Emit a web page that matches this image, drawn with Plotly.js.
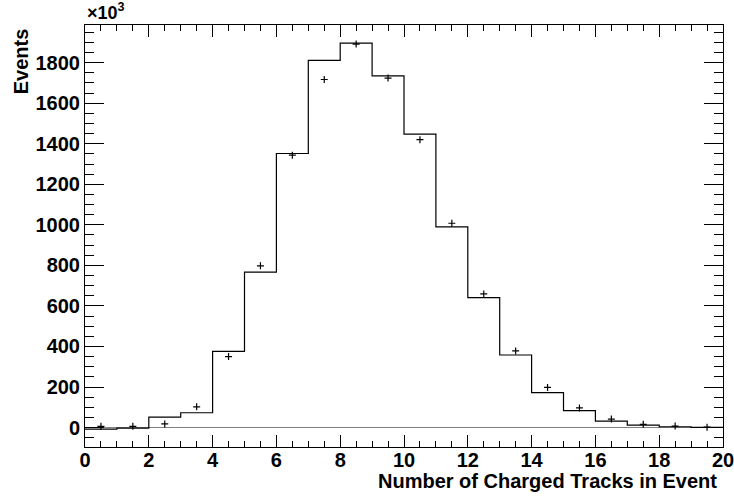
<!DOCTYPE html>
<html>
<head>
<meta charset="utf-8">
<script src="https://cdn.plot.ly/plotly-3.0.1.min.js"></script>
<style>html,body{margin:0;padding:0;background:#fff;}#chart{width:734px;height:498px;}</style>
</head>
<body>
<div id="chart"></div>
<script>
// Bin lower edges (number of charged tracks), bin width 1
var binLow = [0, 1, 2, 3, 4, 5, 6, 7, 8, 9, 10, 11, 12, 13, 14, 15, 16, 17, 18, 19];
// Histogram contents (x10^3 events)
var histValues = [-8, -3, 51, 73, 376, 767, 1352, 1811, 1897, 1735, 1448, 990, 641, 358, 172, 83, 32, 12, 4, 1];
// Data points (x10^3 events), drawn at bin centres
var pointValues = [6, 6, 18, 102, 350, 798, 1344, 1717, 1892, 1724, 1420, 1008, 659, 378, 198, 97, 42, 16, 7, 2];
var xTickVals = [0, 2, 4, 6, 8, 10, 12, 14, 16, 18, 20];
var yTickVals = [0, 200, 400, 600, 800, 1000, 1200, 1400, 1600, 1800];

var binWidth = 1;
var stepX = binLow.concat([binLow[binLow.length - 1] + binWidth]);
var stepY = histValues.concat([histValues[histValues.length - 1]]);
var centers = binLow.map(function (b) { return b + binWidth / 2; });
function bold(v) { return '<b>' + v + '</b>'; }

var font = {family: 'Liberation Sans, Arial, sans-serif', size: 20, color: '#000'};

var traces = [
  {
    type: 'scatter', mode: 'lines', x: stepX, y: stepY,
    line: {shape: 'hv', color: '#000', width: 1.2},
    hoverinfo: 'skip', showlegend: false
  },
  {
    type: 'scatter', mode: 'markers', x: centers, y: pointValues,
    marker: {symbol: 'cross-thin', size: 5, color: '#000', line: {color: '#000', width: 1.2}},
    showlegend: false
  }
];

var layout = {
  width: 734, height: 498,
  margin: {l: 85, r: 11, t: 25, b: 51, pad: 0},
  paper_bgcolor: '#fff', plot_bgcolor: '#fff',
  showlegend: false,
  xaxis: {
    range: [0, 20], tickmode: 'array', tickvals: xTickVals, ticktext: xTickVals.map(bold),
    ticks: 'inside', ticklen: 12, tickwidth: 1, tickcolor: '#000', ticklabelstandoff: -5,
    ticklabeloverflow: 'allow',
    minor: {dtick: 0.5, tick0: 0, ticks: 'inside', ticklen: 6, tickwidth: 1, tickcolor: '#000', showgrid: false},
    showline: true, linecolor: '#000', linewidth: 1, mirror: 'allticks',
    showgrid: false, zeroline: false, tickfont: font, fixedrange: true
  },
  yaxis: {
    range: [-96, 1986], tickmode: 'array', tickvals: yTickVals, ticktext: yTickVals.map(bold),
    ticks: 'inside', ticklen: 19, tickwidth: 1, tickcolor: '#000',
    ticklabeloverflow: 'allow',
    minor: {dtick: 50, tick0: 0, ticks: 'inside', ticklen: 9, tickwidth: 1, tickcolor: '#000', showgrid: false},
    showline: true, linecolor: '#000', linewidth: 1, mirror: 'allticks',
    showgrid: false, zeroline: true, zerolinecolor: '#808080', zerolinewidth: 1,
    tickfont: font, fixedrange: true
  },
  annotations: [
    {text: '<b>Events</b>', xref: 'paper', yref: 'paper', x: -0.101, y: 0.996,
     xanchor: 'center', yanchor: 'top', textangle: -90, showarrow: false, font: font},
    {text: '<b>Number of Charged Tracks in Event</b>', xref: 'paper', yref: 'paper', x: 0.9937, y: -0.0814,
     xanchor: 'right', yanchor: 'middle', showarrow: false, font: font},
    {text: '<b>\u00d710<sup>3</sup></b>', xref: 'paper', yref: 'paper', x: 0, y: 1.0,
     xanchor: 'left', yanchor: 'bottom', showarrow: false,
     font: {family: 'Liberation Sans, Arial, sans-serif', size: 18, color: '#000'}}
  ]
};

Plotly.newPlot('chart', traces, layout, {displayModeBar: false, staticPlot: true});
</script>
</body>
</html>
